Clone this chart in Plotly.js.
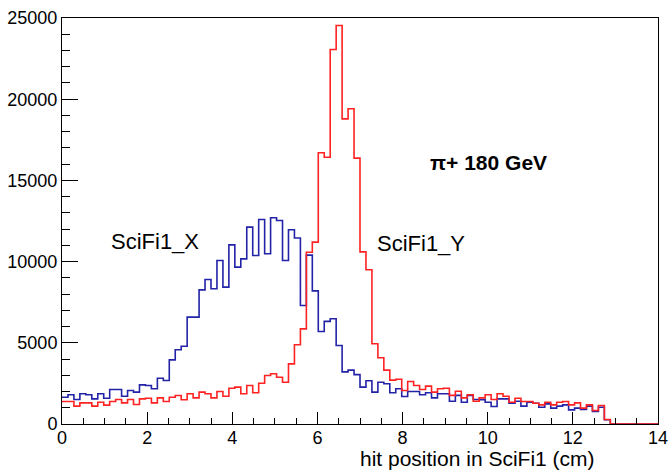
<!DOCTYPE html>
<html>
<head>
<meta charset="utf-8">
<script src="https://cdn.plot.ly/plotly-3.0.1.min.js"></script>
<style>html,body{margin:0;padding:0;background:#fff;}#chart{width:668px;height:472px;}</style>
</head>
<body>
<div id="chart"></div>
<script>
// Histogram range (cm)
const xMin = 0;
const xMax = 14;

// SciFi1_X counts per bin (100 bins, 0..14 cm)
const sciFiX = [
  1650, 1800, 1510, 1860, 1800, 1550, 1860, 1590, 2120, 2120,
  1710, 2060, 1960, 2410, 2370, 2170, 2820, 2680, 3950, 4570,
  4790, 6580, 6580, 8260, 8900, 8330, 10070, 8430, 11030, 9660,
  10170, 12120, 10380, 12590, 10480, 12700, 12530, 10070, 11960, 11450,
  7300, 10400, 8200, 5700, 6320, 6480, 4830, 3210, 3320, 3040,
  2270, 2660, 1960, 2570, 2480, 1920, 2170, 1690, 2000, 2000,
  1800, 1920, 1610, 1860, 1860, 1400, 1760, 1340, 1760, 1510,
  1500, 1340, 1080, 1550, 1550, 1280, 1400, 1100, 1340, 1280,
  1030, 1240, 975, 1100, 1180, 870, 975, 890, 1100, 770,
  1030, 260, 0, 0, 0, 0, 0, 0, 0, 0
];

// SciFi1_Y counts per bin (100 bins, 0..14 cm)
const sciFiY = [
  1385, 1385, 1100, 1300, 1300, 1100, 1340, 1160, 1385, 1510,
  1300, 1510, 1200, 1550, 1590, 1300, 1610, 1385, 1650, 1755,
  1490, 1860, 1610, 1960, 1860, 1610, 2000, 1710, 2200, 2270,
  1860, 2370, 1920, 2510, 2990, 3090, 2880, 2570, 3700, 4880,
  5860, 10580, 11200, 16700, 16430, 23060, 24540, 18790, 19410, 16370,
  10600, 9500, 4940, 4080, 3320, 2700, 2760, 2060, 2620, 2370,
  2120, 2330, 1960, 2170, 2200, 1760, 2020, 1610, 1800, 1400,
  1610, 1800, 1510, 1860, 1710, 1340, 1590, 1390, 1390, 1280,
  1180, 1340, 1180, 1340, 1390, 1180, 1300, 975, 1180, 830,
  1140, 280, 0, 0, 0, 0, 0, 0, 0, 0
];

// Labels
const seriesNames = ["SciFi1_X", "SciFi1_Y"];
const xTitle = "hit position in SciFi1 (cm)";
const beamLabel = "π+ 180 GeV";

function stepData(vals) {
  const w = (xMax - xMin) / vals.length;
  const xs = [], ys = [];
  for (let i = 0; i < vals.length; i++) { xs.push(xMin + i * w); ys.push(vals[i]); }
  xs.push(xMax); ys.push(vals[vals.length - 1]);
  return {xs, ys};
}

const bx = stepData(sciFiX);
const ry = stepData(sciFiY);

const font = "Liberation Sans, Arial, Helvetica, sans-serif";

const traces = [
  {x: bx.xs, y: bx.ys, type: 'scatter', mode: 'lines', line: {shape: 'hv', color: '#2323a8', width: 1.6}, name: seriesNames[0], showlegend: false, hoverinfo: 'skip'},
  {x: ry.xs, y: ry.ys, type: 'scatter', mode: 'lines', line: {shape: 'hv', color: '#ff2222', width: 1.6}, name: seriesNames[1], showlegend: false, hoverinfo: 'skip'}
];

const layout = {
  width: 668, height: 472,
  margin: {l: 62, r: 10, t: 18, b: 48, pad: 0},
  paper_bgcolor: '#fff', plot_bgcolor: '#fff',
  font: {family: font, size: 18, color: '#000'},
  showlegend: false,
  xaxis: {
    range: [xMin, xMax], showgrid: false, zeroline: false,
    showline: true, linecolor: '#000', linewidth: 1, mirror: true,
    ticks: 'inside', ticklen: 12, tickcolor: '#000', dtick: 2, tick0: 0,
    minor: {ticks: 'inside', ticklen: 6, dtick: 0.5, tickcolor: '#000', showgrid: false},
    tickfont: {family: font, size: 18, color: '#000'}, ticklabeloverflow: 'allow', ticklabelstandoff: -3, fixedrange: true
  },
  yaxis: {
    range: [0, 25000], showgrid: false, zeroline: false,
    showline: true, linecolor: '#000', linewidth: 1, mirror: true,
    ticks: 'inside', ticklen: 16, tickcolor: '#000', dtick: 5000, tick0: 0,
    minor: {ticks: 'inside', ticklen: 8, dtick: 1000, tickcolor: '#000', showgrid: false},
    tickformat: 'd', tickfont: {family: font, size: 18, color: '#000'}, ticklabeloverflow: 'allow', fixedrange: true
  },
  annotations: [
    {xref: 'paper', yref: 'paper', x: (597 - 62) / 596, y: (424 - 458.5) / 406, xanchor: 'right', yanchor: 'middle', text: xTitle, showarrow: false, font: {family: font, size: 21, color: '#000'}},
    {xref: 'x', yref: 'y', x: 1.1, y: 11250, xanchor: 'left', yanchor: 'middle', text: seriesNames[0], showarrow: false, font: {family: font, size: 22, color: '#000'}},
    {xref: 'x', yref: 'y', x: 7.35, y: 11100, xanchor: 'left', yanchor: 'middle', text: seriesNames[1], showarrow: false, font: {family: font, size: 22, color: '#000'}},
    {xref: 'x', yref: 'y', x: 8.6, y: 16120, xanchor: 'left', yanchor: 'middle', text: '<b>' + beamLabel + '</b>', showarrow: false, font: {family: font, size: 21, color: '#000'}}
  ]
};

Plotly.newPlot('chart', traces, layout, {staticPlot: true, displayModeBar: false});
</script>
</body>
</html>
